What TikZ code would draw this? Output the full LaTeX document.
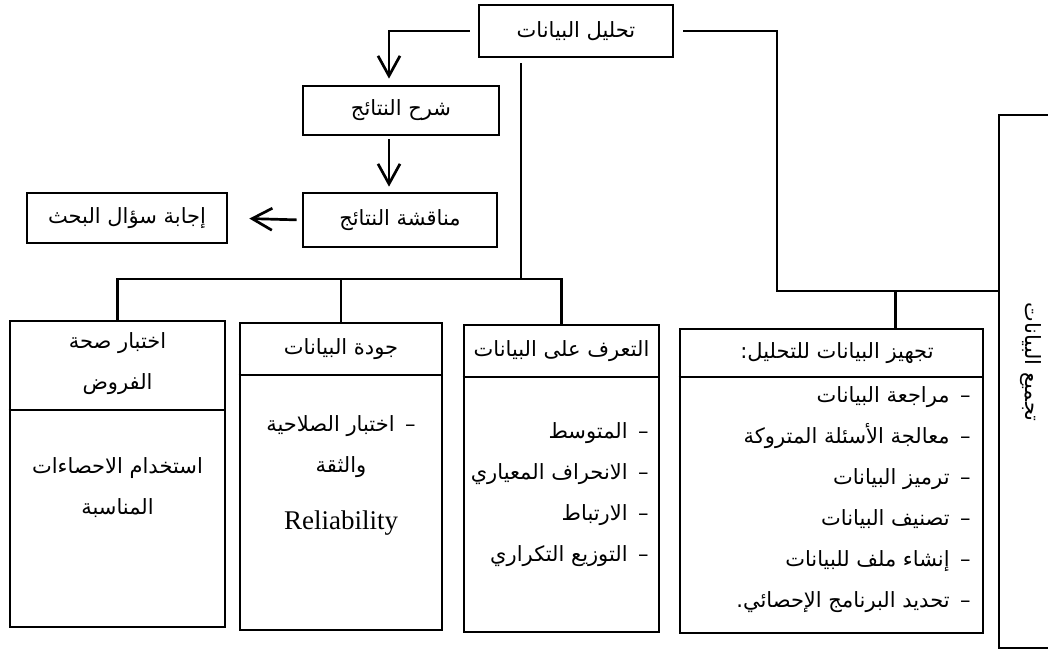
\documentclass[tikz,border=0pt]{standalone}
\usepackage{fontspec}
\setmainfont{Liberation Serif}
\newfontfamily\arabicfont[Script=Arabic]{DejaVu Sans}
\TeXXeTstate=1
\usetikzlibrary{arrows.meta}
\newcommand{\arfont}{\arabicfont\fontsize{10.5}{20.5}\selectfont}
\newcommand{\artext}[1]{\beginR #1\endR}
\begin{document}
\begin{tikzpicture}[x=0.5pt, y=-0.5pt, line width=1.35pt,
  box/.style={draw, inner sep=0pt, font=\arfont},
  col/.style={draw, inner sep=0pt},
  txt/.style={inner sep=0pt, font=\arfont, align=center},
  list/.style={inner sep=0pt, font=\arfont, align=right, anchor=east},
  arr/.style={-{Straight Barb[length=10pt,width=11pt]}}]
\useasboundingbox (0,0) rectangle (1048,657);
\clip (0,0) rectangle (1048,657);

\node[box, minimum width=97pt, minimum height=26pt] (anal) at (576,31) {\artext{تحليل البيانات}};
\node[box, minimum width=98pt, minimum height=24.5pt] (expl) at (401,110.5) {\artext{شرح النتائج}};
\node[box, minimum width=97pt, minimum height=27pt] (disc) at (400,220) {\artext{مناقشة النتائج}};
\node[box, minimum width=100pt, minimum height=25pt] (ans) at (127,218) {\artext{إجابة سؤال البحث}};

\node[col, minimum width=107.5pt, minimum height=153pt] (hyp) at (117.5,474) {};
\node[col, minimum width=101pt, minimum height=153.5pt] (qual) at (341,476.5) {};
\node[col, minimum width=97.5pt, minimum height=153.5pt] (know) at (561.5,478.5) {};
\node[col, minimum width=151.5pt, minimum height=152pt] (prep) at (831.5,481) {};
\node[col, minimum width=60pt, minimum height=266.5pt] (collect) at (1059,381.5) {};

\draw (hyp.west |- 0,410) -- (hyp.east |- 0,410);
\draw (qual.west |- 0,375) -- (qual.east |- 0,375);
\draw (know.west |- 0,377) -- (know.east |- 0,377);
\draw (prep.west |- 0,377) -- (prep.east |- 0,377);

\node[txt] (hyptitle) at (117.5,364) {\artext{اختبار صحة}\\\artext{الفروض}};
\node[txt] (qualtitle) at (341,349) {\artext{جودة البيانات}};
\node[txt] (knowtitle) at (561.5,351) {\artext{التعرف على البيانات}};
\node[txt] (preptitle) at (837,353) {\artext{تجهيز البيانات للتحليل:}};

\node[txt] (hypbody) at (117.5,488) {\artext{استخدام الاحصاءات}\\\artext{المناسبة}};
\node[txt] (qualbody) at (341,447) {\artext{–\enspace اختبار الصلاحية}\\\artext{والثقة}};
\node[inner sep=0pt, font=\fontsize{13.5}{16}\selectfont] (qualeng) at (341,523) {Reliability};
\node[list] (knowbody) at (650,495) {\artext{–\enspace المتوسط}\\\artext{–\enspace الانحراف المعياري}\\\artext{–\enspace الارتباط}\\\artext{–\enspace التوزيع التكراري}};
\node[list] (prepbody) at (972,500) {\artext{–\enspace مراجعة البيانات}\\\artext{–\enspace معالجة الأسئلة المتروكة}\\\artext{–\enspace ترميز البيانات}\\\artext{–\enspace تصنيف البيانات}\\\artext{–\enspace إنشاء ملف للبيانات}\\\artext{–\enspace تحديد البرنامج الإحصائي.}};

\node[inner sep=0pt, font=\arfont, rotate=-90] (collectlbl) at (1031,362) {\artext{تجميع البيانات}};

\draw[arr, shorten <=4pt, shorten >=3pt] (anal.west) -| ([xshift=-6pt]expl.north);
\draw[arr, shorten <=1.5pt, shorten >=2.5pt] ([xshift=-6pt]expl.south) -- ([xshift=-6pt]expl.south |- disc.north);
\draw[arr, shorten <=2.5pt, shorten >=10.5pt] (disc.west) -- (ans.east);

\coordinate (busL) at (521,279);
\draw[shorten <=2.5pt] ([xshift=-27.5pt]anal.south) -- ([xshift=-27.5pt]anal.south |- busL);
\draw (hyp.north) |- (busL) -| (know.north);
\draw (qual.north) -- (qual.north |- busL);

\coordinate (busR) at (777,291);
\draw[shorten <=4.5pt] (anal.east) -| (busR) -- (busR -| collect.west);
\draw ([xshift=32pt]prep.north) -- ([xshift=32pt]prep.north |- busR);
\end{tikzpicture}
\end{document}
